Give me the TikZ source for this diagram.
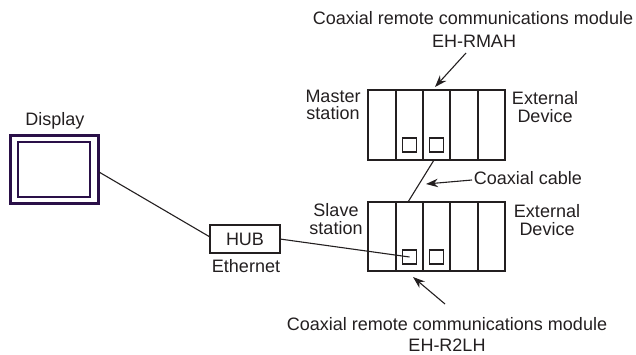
\documentclass[tikz,border=0pt]{standalone}
\usepackage{fontspec}
\setmainfont{Liberation Sans}
\usetikzlibrary{arrows.meta}
\definecolor{ink}{HTML}{231F20}
\definecolor{dispc}{HTML}{2A1048}
\tikzset{
 x=1pt,y=-1pt,
 lbl/.style={inner sep=0pt,text=ink,font=\fontsize{18}{18}\selectfont,anchor=center},
 slot/.style={draw=ink,line width=1.6pt,inner sep=0pt,outer sep=0pt},
 port/.style={draw=ink,line width=1.1pt,minimum width=14.5pt,minimum height=14pt,inner sep=0pt},
 hubbox/.style={draw=ink,line width=1.4pt,minimum width=70pt,minimum height=28pt,inner sep=0pt,outer sep=0pt,text=ink,font=\fontsize{18}{18}\selectfont},
 wire/.style={draw=ink,line width=1.1pt},
 pointer/.style={draw=ink,line width=1.1pt,-{Stealth[length=12pt,width=8.5pt]}},
}
\begin{document}
\begin{tikzpicture}
\useasboundingbox (0,0) rectangle (636,354);
% Display
\node[draw=dispc,line width=2.6pt,minimum width=88pt,minimum height=68pt,inner sep=0pt,outer sep=0pt] (disp) at (54.5,169.5) {};
\node[draw=dispc,line width=1.5pt,minimum width=72pt,minimum height=55pt,inner sep=0pt] (dispin) at (54,169.5) {};
\node[lbl] (displbl) at (55,121) {Display};
% HUB
\node[hubbox] (hub) at (245,239) {HUB};
\node[lbl] (eth) at (246,266) {Ethernet};
% Racks
\foreach \n/\x/\w in {1/382/28,2/409.5/27,3/436.5/27,4/464/28,5/491.5/27}{
  \node[slot,minimum width=\w pt,minimum height=70pt] (m\n) at (\x,125) {};
  \node[slot,minimum width=\w pt,minimum height=69pt] (s\n) at (\x,236.5) {};
}
\node[port] (mp2) at (409.5,145) {};
\node[port] (mp3) at (436.5,145) {};
\node[port] (sp2) at (409.5,257) {};
\node[port] (sp3) at (436.5,257) {};
% labels
\node[lbl] (t1) at (473,18) {Coaxial remote communications module};
\node[lbl] (t2) at (474,41) {EH-RMAH};
\node[lbl] (ms1) at (333,96) {Master};
\node[lbl] (ms2) at (333,113) {station};
\node[lbl] (me1) at (545,98) {External};
\node[lbl] (me2) at (545,116) {Device};
\node[lbl] (ss1) at (336,210) {Slave};
\node[lbl] (ss2) at (336,228) {station};
\node[lbl] (se1) at (547,211) {External};
\node[lbl] (se2) at (547,229) {Device};
\node[lbl] (cc) at (528,178) {Coaxial cable};
\node[lbl] (b1) at (447,324) {Coaxial remote communications module};
\node[lbl] (b2) at (447,345) {EH-R2LH};
% free ends
\coordinate (atop) at (466,53);
\coordinate (atiptop) at (435,87);
\coordinate (acab) at (472,180);
\coordinate (atipcab) at (426,184);
\coordinate (abot) at (445,304);
\coordinate (atipbot) at (413,277);
\coordinate (cabtop) at (434,160);
\coordinate (cabbot) at (408,202);
\coordinate (d1) at (99,172);
\coordinate (h1) at (210,237);
% connectors
\draw[wire] (d1) -- (h1);
\draw[wire] (hub.east) -- (sp2.center);
\draw[wire] (cabtop) -- (cabbot);
\draw[pointer] (atop) -- (atiptop);
\draw[pointer] (acab) -- (atipcab);
\draw[pointer] (abot) -- (atipbot);
\end{tikzpicture}
\end{document}
